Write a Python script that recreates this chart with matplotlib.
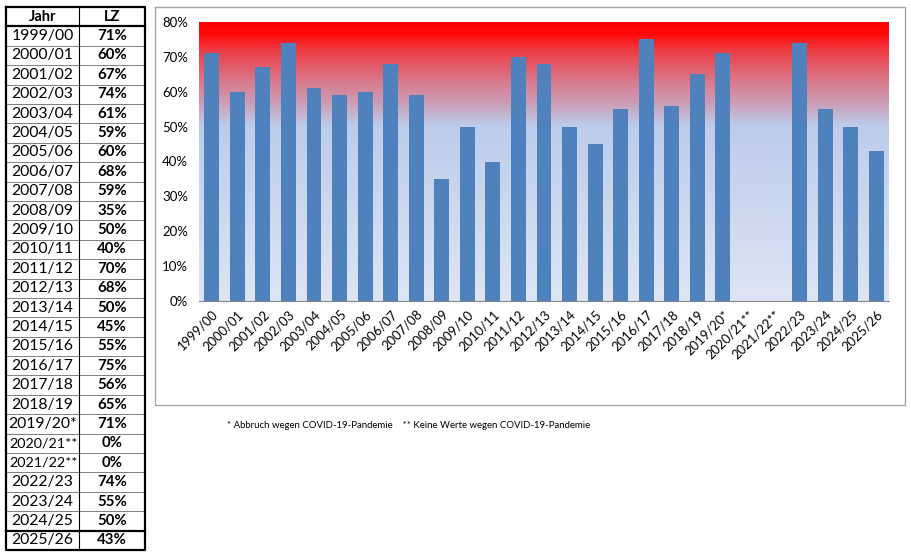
import numpy as np
import matplotlib.pyplot as plt
from matplotlib.colors import LinearSegmentedColormap

jahre = ['1999/00', '2000/01', '2001/02', '2002/03', '2003/04', '2004/05', '2005/06',
         '2006/07', '2007/08', '2008/09', '2009/10', '2010/11', '2011/12', '2012/13',
         '2013/14', '2014/15', '2015/16', '2016/17', '2017/18', '2018/19', '2019/20*',
         '2020/21**', '2021/22**', '2022/23', '2023/24', '2024/25', '2025/26']
lz = [71, 60, 67, 74, 61, 59, 60, 68, 59, 35, 50, 40, 70, 68, 50, 45, 55, 75, 56, 65, 71,
      0, 0, 74, 55, 50, 43]
yticks = [0, 10, 20, 30, 40, 50, 60, 70, 80]
fussnote = '* Abbruch wegen COVID-19-Pandemie    ** Keine Werte wegen COVID-19-Pandemie'

W, H = 911, 559
plt.rcParams['font.family'] = ['Lato', 'DejaVu Sans']
fig = plt.figure(figsize=(W / 100, H / 100), dpi=100)

# overlay axes in pixel coordinates for table, frame and footnote
bg = fig.add_axes([0, 0, 1, 1])
bg.set_xlim(0, W)
bg.set_ylim(H, 0)
bg.axis('off')

# table
tx0, tx1, tx2 = 6, 79, 145
ty0, ty1 = 7, 550
n = len(jahre) + 1
rh = (ty1 - ty0) / n
for i in range(1, n):
    y = ty0 + i * rh
    lw = 1.6 if i in (1, n - 1) else 0.7
    col = 'black' if i in (1, n - 1) else '#7f7f7f'
    bg.plot([tx0, tx2], [y, y], color=col, lw=lw)
bg.plot([tx1, tx1], [ty0, ty1], color='black', lw=0.8)
bg.plot([tx0, tx2, tx2, tx0, tx0], [ty0, ty0, ty1, ty1, ty0], color='black', lw=1.6)
bg.text((tx0 + tx1) / 2, ty0 + rh / 2, 'Jahr', ha='center', va='center',
        fontsize=10.5, fontweight='bold')
bg.text((tx1 + tx2) / 2, ty0 + rh / 2, 'LZ', ha='center', va='center',
        fontsize=10.5, fontweight='bold')
for i, (j, v) in enumerate(zip(jahre, lz)):
    yc = ty0 + (i + 1.5) * rh
    fs = 10.4 if '**' in j else 11.3
    bg.text((tx0 + tx1) / 2 + (1 if '**' in j else 0), yc, j, ha='center', va='center',
            fontsize=fs)
    bg.text((tx1 + tx2) / 2, yc, f'{v}%', ha='center', va='center',
            fontsize=10.8, fontweight='bold')

# chart frame
bg.plot([155, 905, 905, 155, 155], [7, 7, 405, 405, 7], color='#a6a6a6', lw=1)
bg.text(227, 425, fussnote, ha='left', va='center', fontsize=6.9)

# chart
ax = fig.add_axes([199 / W, (H - 301) / H, 690 / W, 279 / H])
x = np.arange(len(jahre))

cmap = LinearSegmentedColormap.from_list('grad', [
    (0.0, (0.87, 0.90, 0.96)),
    (0.63, (0.74, 0.80, 0.92)),
    (0.70, (0.79, 0.64, 0.74)),
    (0.80, (0.86, 0.45, 0.52)),
    (0.90, (0.93, 0.24, 0.27)),
    (0.96, (1.0, 0.03, 0.03)),
    (1.0, (1.0, 0.0, 0.0)),
])
grad = np.linspace(0, 1, 256).reshape(-1, 1)
ax.imshow(grad, cmap=cmap, aspect='auto', origin='lower',
          extent=[-0.5, len(jahre) - 0.5, 0, 80], zorder=0)

ax.bar(x, lz, width=0.58, color='#4f81bd', zorder=2)
ax.set_xlim(-0.5, len(jahre) - 0.5)
ax.set_ylim(0, 80)
ax.set_yticks(yticks)
ax.set_yticklabels([f'{t}%' for t in yticks], fontsize=9.5)
ax.set_xticks(x)
ax.set_xticklabels(jahre, rotation=45, ha='right', rotation_mode='anchor', fontsize=9.4)
ax.tick_params(length=0, pad=8)
ax.tick_params(axis='x', pad=5)
for s in ['top', 'right', 'left']:
    ax.spines[s].set_visible(False)
ax.spines['bottom'].set_color('#868686')

fig.savefig('out.png', dpi=100)
